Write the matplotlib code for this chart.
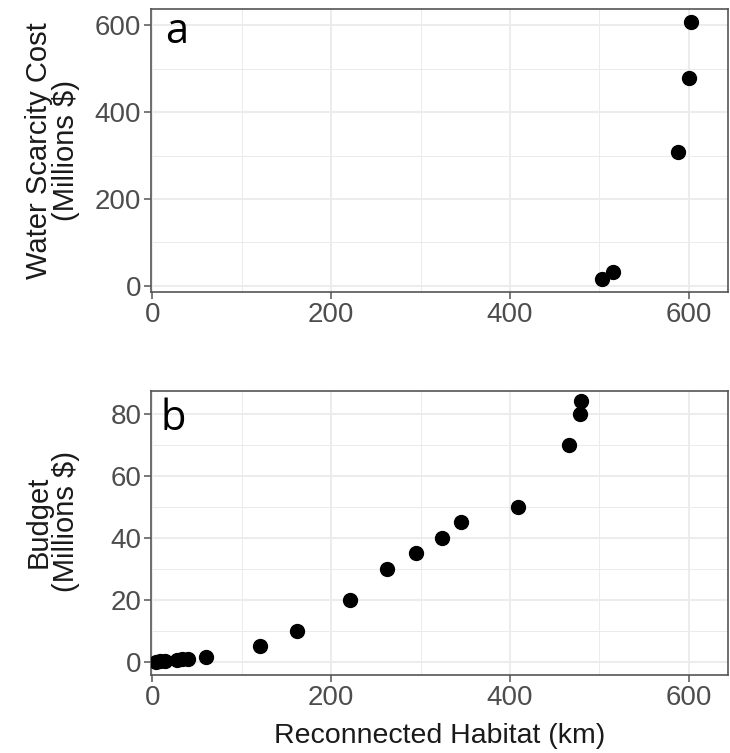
import matplotlib
matplotlib.use("Agg")
import matplotlib.pyplot as plt
from matplotlib.ticker import MultipleLocator

plt.rcParams['font.family'] = ['Liberation Sans', 'DejaVu Sans']

# Panel a: water scarcity cost vs reconnected habitat
habitat_a = [503, 515, 588, 600, 603]
water_cost = [15, 32, 308, 478, 608]

# Panel b: budget vs reconnected habitat
habitat_b = [4, 9, 14, 28, 33, 40, 60, 120, 162, 221, 263, 295, 324, 345, 409, 466, 478, 480]
budget = [0, 0.2, 0.3, 0.6, 0.8, 1, 1.5, 5, 10, 20, 30, 35, 40, 45, 50, 70, 80, 84]

x_ticks = [0, 200, 400, 600]
y_ticks_a = [0, 200, 400, 600]
y_ticks_b = [0, 20, 40, 60, 80]

W, H = 730, 753
fig = plt.figure(figsize=(W / 100, H / 100), dpi=100)

def frac(l, t, r, b):
    return [l / W, 1 - b / H, (r - l) / W, (b - t) / H]

ax_a = fig.add_axes(frac(151, 9, 728, 292))
ax_b = fig.add_axes(frac(151, 391, 728, 675))

tick_col = '#4D4D4D'
border_col = '#555555'
grid_col = '#EBEBEB'

def style(ax, yticks, ylim, yminor):
    ax.set_xlim(-1.5, 644)
    ax.set_ylim(*ylim)
    ax.set_xticks(x_ticks)
    ax.set_yticks(yticks)
    ax.xaxis.set_minor_locator(MultipleLocator(100))
    ax.yaxis.set_minor_locator(MultipleLocator(yminor))
    ax.grid(True, which='major', color=grid_col, linewidth=1.3, zorder=0)
    ax.grid(True, which='minor', color=grid_col, linewidth=0.7, zorder=0)
    ax.set_axisbelow(True)
    for s in ax.spines.values():
        s.set_color(border_col)
        s.set_linewidth(1.2)
    ax.tick_params(which='major', length=5, width=1.1, color=border_col,
                   labelsize=20, labelcolor=tick_col, pad=2)
    ax.tick_params(which='minor', length=0)

style(ax_a, y_ticks_a, (-13.8, 636.8), 100)
style(ax_b, y_ticks_b, (-4.3, 87.3), 10)

ax_a.plot(habitat_a, water_cost, 'o', color='black', markersize=10, zorder=3)
ax_b.plot(habitat_b, budget, 'o', color='black', markersize=10, zorder=3)

ax_a.set_ylabel('Water Scarcity Cost\n(Millions $)', fontsize=21, color='#1a1a1a',
                linespacing=0.95)
ax_b.set_ylabel('Budget\n(Millions $)', fontsize=21, color='#1a1a1a',
                linespacing=0.95)
ax_a.yaxis.set_label_coords((80 - 151) / 577, 0.5)
ax_b.yaxis.set_label_coords((80 - 151) / 577, 0.54)
ax_b.set_xlabel('Reconnected Habitat (km)', fontsize=20.5, color='#1a1a1a', labelpad=9)

ax_a.text(0.024, 0.92, 'a', transform=ax_a.transAxes, fontsize=30,
          family=['Open Sans', 'DejaVu Sans'], va='center', ha='left')
ax_b.text(0.016, 0.90, 'b', transform=ax_b.transAxes, fontsize=30,
          family=['Open Sans', 'DejaVu Sans'], va='center', ha='left')

fig.savefig('out.png', dpi=100)
